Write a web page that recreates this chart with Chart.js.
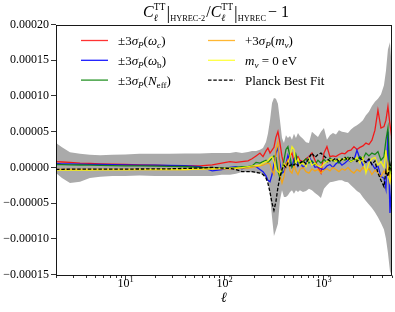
<!DOCTYPE html>
<html>
<head>
<meta charset="utf-8">
<script src="https://cdn.jsdelivr.net/npm/chart.js@4.4.1/dist/chart.umd.min.js"></script>
<style>
  html, body { margin: 0; padding: 0; background: #fff; }
  #wrap { width: 395px; height: 312px; }
</style>
</head>
<body>
<div id="wrap"><canvas id="ratio" width="395" height="312"></canvas></div>
<script>
// values in units of 1e-5
const UNIT = 1e-5;

const ell = [
  2, 2.3, 2.77, 3.5, 4.4, 5.6, 7.4, 10, 14, 20,
  28, 40, 57, 76, 95, 115, 132, 152, 175, 192,
  211, 231, 248, 266, 278, 292, 306, 320, 335, 351,
  368, 386, 404, 423, 443, 465, 487, 510, 534, 560,
  586, 629, 675, 723, 775, 832, 892, 956, 1025, 1099,
  1179, 1264, 1356, 1454, 1559, 1672, 1793, 1922, 2061, 2210,
  2370, 2541, 2725, 2922, 3134, 3361, 3605, 3866, 4146, 4342,
  4549, 4768, 5000
];

const bandHi = [
  3.4, 2.8, 2.1, 1.9, 1.75, 1.7, 1.75, 1.8, 1.9, 1.9,
  1.9, 1.95, 1.95, 2.0, 2.0, 2.0, 2.15, 2.0, 2.15, 2.3,
  2.3, 2.45, 2.7, 3.55, 4.7, 6.6, 9.0, 9.7, 9.6, 8.9,
  6.6, 4.1, 3.4, 4.5, 4.1, 4.4, 3.85, 4.7, 4.1, 4.8,
  4.4, 4.0, 3.5, 3.4, 5.0, 4.6, 4.25, 5.0, 5.5, 3.85,
  4.5, 4.8, 4.6, 5.2, 5.0, 4.9, 4.8, 5.3, 5.65, 5.9,
  6.2, 6.6, 7.3, 7.8, 8.6, 9.2, 9.6, 10.2, 11.5, 13.5,
  16.5, 17.5, 13.5
];

const bandLo = [
  -0.8, -1.5, -2.2, -2.0, -1.5, -1.3, -1.2, -1.2, -1.15, -1.2,
  -1.2, -1.2, -1.2, -1.2, -1.05, -1.05, -0.9, -0.65, -0.65, -0.7,
  -0.8, -0.8, -1.05, -1.5, -1.9, -3.9, -7.0, -9.6, -8.8, -7.9,
  -4.6, -3.2, -4.15, -4.15, -3.9, -3.45, -3.2, -3.7, -3.2, -3.45,
  -3.2, -3.45, -3.3, -3.0, -3.2, -3.6, -3.9, -4.3, -3.0, -2.5,
  -2.1, -2.0, -1.9, -1.8, -1.8, -2.0, -2.1, -2.5, -2.9, -3.3,
  -3.6, -4.2, -4.7, -5.2, -5.7, -6.3, -7.0, -7.8, -8.7, -10.0,
  -12.0, -14.5, -15.2
];

const omegaC = [
  0.8, 0.75, 0.7, 0.6, 0.55, 0.5, 0.45, 0.4, 0.35, 0.3,
  0.25, 0.2, 0.2, 0.35, 0.6, 0.8, 0.7, 0.8, 0.9, 1.2,
  1.6, 2.0, 1.5, 2.3, 2.7, 2.0, 2.4, 2.8, 4.2, 5.0,
  3.4, 1.5, 0.3, 0.1, 1.0, 1.6, 2.0, 0.8, 1.2, 1.5,
  1.0, 0.8, 1.2, 1.5, 2.0, 1.0, 0.0, -0.8, 2.0, 2.9,
  1.5, 1.6, 1.5, 1.8, 2.0, 1.9, 2.3, 2.4, 2.9, 2.5,
  2.8, 3.0, 3.4, 3.2, 3.8, 5.2, 8.0, 5.5, 5.7, 6.6,
  8.5, 6.0, 4.0
];

const omegaB = [
  0.55, 0.5, 0.48, 0.45, 0.42, 0.4, 0.38, 0.35, 0.32, 0.3,
  0.28, 0.25, 0.1, -0.5, -0.3, 0.0, 0.1, -0.2, 0.1, 0.2,
  0.1, -0.3, -0.6, -1.2, -1.8, -2.0, -1.0, 0.5, 2.0, 2.7,
  0.6, -0.8, -0.6, 0.5, 1.7, 0.8, 0.1, 1.2, 1.5, 0.2,
  0.8, 0.0, 0.5, 1.5, 0.8, 0.0, 0.1, -0.2, -0.3, 0.2,
  0.4, 0.0, 0.5, 0.8, 0.3, 0.6, 1.0, 0.8, 1.0, 2.4,
  1.2, 0.3, 0.8, 1.0, 0.5, -0.2, 0.2, -1.3, -1.5, -3.0,
  5.0, -6.4, -1.5
];

const nEff = [
  0.4, 0.38, 0.36, 0.33, 0.3, 0.28, 0.25, 0.22, 0.2, 0.18,
  0.15, 0.12, 0.0, -0.1, -0.1, -0.1, 0.0, 0.1, 0.1, 0.2,
  0.7, 0.6, 0.8, 1.0, 0.7, 1.0, 1.3, 1.6, 1.4, -0.5,
  -1.5, -0.5, 1.0, 2.5, 2.9, 1.5, 0.0, 0.5, 1.8, 0.8,
  0.5, 0.8, 1.2, 0.6, 0.9, 0.4, 1.0, 0.6, 1.1, 0.7,
  1.3, 0.9, 1.0, 0.6, 1.2, 1.0, 1.4, 0.8, 1.2, 1.0,
  1.5, 1.2, 2.0, 1.6, 2.0, 1.8, 2.2, 1.0, 1.5, 3.8,
  5.5, -1.0, 1.0
];

const mNuPlus = [
  -0.3, -0.3, -0.3, -0.3, -0.3, -0.3, -0.3, -0.3, -0.3, -0.3,
  -0.3, -0.3, -0.25, -0.2, -0.2, -0.2, -0.15, -0.1, -0.1, 0.0,
  0.1, 0.2, 0.3, 0.5, 0.6, 0.5, -0.5, -1.0, 2.5, 3.5,
  -1.0, -2.2, -1.3, 0.5, 1.0, -0.5, -0.8, 0.3, -0.5, -1.0,
  -0.3, 0.0, -0.6, -0.8, -0.2, -0.5, -0.3, -0.8, -0.4, -0.2,
  -0.5, 0.0, -0.3, -0.6, -0.2, -0.4, 0.0, -0.5, -0.8, -0.3,
  -0.6, 0.0, -0.5, -0.2, -1.0, -0.4, -0.8, -1.3, -0.5, -1.0,
  0.5, -2.0, -1.0
];

const mNuZero = [
  -0.4, -0.4, -0.4, -0.38, -0.37, -0.36, -0.35, -0.34, -0.33, -0.32,
  -0.3, -0.3, -0.25, -0.2, -0.15, -0.1, -0.1, -0.05, 0.1, 0.2,
  0.25, 0.3, 0.6, 0.8, 0.9, 1.3, 1.5, 0.8, -0.2, -0.6,
  -0.8, -0.3, 0.5, 0.2, 0.5, 1.5, 2.9, 2.5, 0.6, 1.2,
  0.4, 0.6, 0.1, 1.4, 0.3, 0.6, 0.2, 0.0, 0.5, 0.8,
  1.0, 1.1, 0.8, 1.2, 1.0, 1.3, 1.2, 0.8, 1.0, 1.4,
  0.6, 1.4, -0.8, 0.6, 1.2, 1.4, 0.3, 0.8, 0.0, 2.4,
  -1.0, -2.0, 0.5
];

const planck = [
  -0.27, -0.27, -0.26, -0.26, -0.25, -0.25, -0.24, -0.24, -0.23, -0.22,
  -0.2, -0.15, -0.1, 0.0, -0.1, -0.15, -0.3, -0.6, -0.6, -0.6,
  -0.7, -0.8, -1.0, -1.5, -2.2, -3.5, -5.0, -6.0, -4.8, -2.8,
  -1.3, -0.3, 0.3, 0.0, 0.6, 0.2, 0.5, 0.3, 0.6, 0.2,
  0.6, 0.9, 0.5, 1.3, 2.0, 1.4, 1.8, 2.0, 1.6, 1.2,
  0.9, 1.0, 1.3, 0.8, 1.1, 1.4, 1.0, 1.5, 1.2, 0.8,
  1.3, 1.0, 0.7, 1.2, 0.4, 0.9, -0.8, -1.8, -2.7, -0.5,
  -1.3, 0.5, -1.0
];

const yTicks = [-0.00015, -0.0001, -0.00005, 0, 0.00005, 0.0001, 0.00015, 0.0002];
const xMajor = [10, 100, 1000];
const xMajorExp = ['1', '2', '3'];
const xMinor = [2, 3, 4, 5, 6, 7, 8, 9, 20, 30, 40, 50, 60, 70, 80, 90,
  200, 300, 400, 500, 600, 700, 800, 900, 2000, 3000, 4000, 5000];

const SERIF = '"Liberation Serif", "Times New Roman", serif';

function pts(vals) {
  return ell.map((l, i) => ({ x: l, y: vals[i] * UNIT }));
}

function lineSet(label, vals, color, order, dash) {
  return {
    label, data: pts(vals), borderColor: color, borderWidth: 1.3,
    borderDash: dash || [], pointRadius: 0, fill: false, tension: 0, order
  };
}

// rich text: parts are {t, it, sc, dy} or {stack: [...]}
function rich(ctx, parts, x, y, base, draw) {
  let cx = x;
  parts.forEach(p => {
    const items = p.stack || [p];
    let w = 0;
    items.forEach(q => {
      ctx.font = (q.it ? 'italic ' : '') + (base * (q.sc || 1)) + 'px ' + SERIF;
      const m = ctx.measureText(q.t).width;
      if (draw) ctx.fillText(q.t, cx, y + (q.dy || 0));
      w = Math.max(w, m);
    });
    cx += w + (p.sp || 0);
  });
  return cx - x;
}

function sig(arg, sub, subIt) {
  return [
    { t: arg[0] }, { t: 'σ', it: true }, { t: 'P', it: true, sc: 0.7, dy: 3 },
    { t: '(' }, { t: arg[1], it: true }, { t: sub, it: subIt, sc: 0.7, dy: 3 }, { t: ')' }
  ];
}

const legendItems = [
  { col: 0, row: 0, color: 'rgba(255,0,0,0.8)', parts: sig(['±3', 'ω'], 'c', true) },
  { col: 0, row: 1, color: 'rgba(0,0,255,0.9)', parts: sig(['±3', 'ω'], 'b', false) },
  { col: 0, row: 2, color: 'rgba(0,128,0,0.85)', parts: sig(['±3', 'N'], 'eff', false) },
  { col: 1, row: 0, color: 'rgba(255,165,0,0.8)', parts: sig(['+3', 'm'], 'ν', true) },
  { col: 1, row: 1, color: 'rgba(255,255,0,0.75)', parts: [
      { t: 'm', it: true }, { t: 'ν', it: true, sc: 0.7, dy: 3 }, { t: ' = 0 eV' }] },
  { col: 1, row: 2, color: '#000', dash: [3.5, 1.8], parts: [{ t: 'Planck Best Fit' }] }
];

const ttStack = { stack: [
  { t: 'TT', sc: 0.6, dy: -7 },
  { t: 'ℓ', it: true, sc: 0.62, dy: 3.5 }
], sp: 1 };
const titleParts = [
  { t: 'C', it: true }, ttStack,
  { t: '|', sc: 1.15, dy: 1.5 }, { t: 'HYREC-2', sc: 0.52, dy: 4, sp: 1 },
  { t: '/' },
  { t: 'C', it: true }, ttStack,
  { t: '|', sc: 1.15, dy: 1.5 }, { t: 'HYREC', sc: 0.52, dy: 4, sp: 2 },
  { t: '− 1' }
];

const decor = {
  id: 'decor',
  afterDraw(chart) {
    const { ctx, chartArea: a, scales: { x } } = chart;
    ctx.save();
    ctx.strokeStyle = '#000';
    ctx.fillStyle = '#000';
    ctx.lineWidth = 0.9;
    const L = Math.round(a.left) + 0.5, R = Math.round(a.right) - 0.5;
    const T = Math.round(a.top) + 0.5, B = Math.round(a.bottom) + 0.5;
    ctx.strokeRect(L, T, R - L, B - T);

    // x ticks
    ctx.lineWidth = 0.8;
    xMinor.forEach(v => {
      const px = Math.round(x.getPixelForValue(v)) + 0.5;
      ctx.beginPath(); ctx.moveTo(px, B); ctx.lineTo(px, B + 2.5); ctx.stroke();
    });
    ctx.textBaseline = 'alphabetic';
    xMajor.forEach((v, i) => {
      const px = Math.round(x.getPixelForValue(v)) + 0.5;
      ctx.beginPath(); ctx.moveTo(px, B); ctx.lineTo(px, B + 4.5); ctx.stroke();
      const parts = [{ t: '10' }, { t: xMajorExp[i], sc: 0.7, dy: -5 }];
      const w = rich(ctx, parts, 0, 0, 12, false);
      rich(ctx, parts, px - w / 2, 287, 12, true);
    });

    // x label
    ctx.font = 'italic 14px ' + SERIF;
    ctx.textAlign = 'center';
    ctx.fillText('ℓ', (a.left + a.right) / 2, 302);
    ctx.textAlign = 'left';

    // title
    const tw = rich(ctx, titleParts, 0, 0, 16, false);
    rich(ctx, titleParts, 216 - tw / 2, 17, 16, true);

    // legend
    legendItems.forEach(it => {
      const y = 40.5 + it.row * 19.8;
      const x0 = it.col ? 208 : 81;
      ctx.strokeStyle = it.color;
      ctx.lineWidth = 1.3;
      ctx.setLineDash(it.dash || []);
      ctx.beginPath(); ctx.moveTo(x0, y); ctx.lineTo(x0 + 27, y); ctx.stroke();
      ctx.setLineDash([]);
      rich(ctx, it.parts, x0 + 37, y + 4.5, 13, true);
    });
    ctx.restore();
  }
};

new Chart(document.getElementById('ratio'), {
  type: 'line',
  data: {
    datasets: [
      { label: 'band hi', data: pts(bandHi), borderWidth: 0, pointRadius: 0, fill: false, order: 20 },
      { label: 'band lo', data: pts(bandLo), borderWidth: 0, pointRadius: 0,
        fill: '-1', backgroundColor: 'rgb(170,170,170)', order: 19 },
      lineSet('omega_c', omegaC, 'rgba(255,0,0,0.85)', 6),
      lineSet('omega_b', omegaB, 'rgba(0,0,255,0.85)', 5),
      lineSet('N_eff', nEff, 'rgba(0,128,0,0.85)', 4),
      lineSet('m_nu +3s', mNuPlus, 'rgba(255,165,0,0.85)', 3),
      lineSet('m_nu 0', mNuZero, 'rgba(255,255,0,0.85)', 2),
      lineSet('Planck', planck, '#000', 1, [3.5, 1.8])
    ]
  },
  options: {
    responsive: false,
    animation: false,
    devicePixelRatio: 1,
    layout: { padding: { top: 24.5, right: 3, left: 0, bottom: 0 } },
    plugins: { legend: { display: false }, title: { display: false }, tooltip: { enabled: false } },
    scales: {
      x: {
        type: 'logarithmic', min: 2, max: 5000,
        grid: { display: false }, border: { display: false },
        ticks: { display: false },
        afterFit(s) { s.height = 37.5; }
      },
      y: {
        min: -0.00015, max: 0.0002,
        afterBuildTicks(s) { s.ticks = yTicks.map(v => ({ value: v })); },
        afterFit(s) { s.width = 56; },
        grid: { drawOnChartArea: false, drawTicks: true, tickLength: 5, color: '#000', lineWidth: 0.8 },
        border: { display: false },
        ticks: {
          padding: 2, color: '#000', font: { family: SERIF, size: 12 },
          callback(v) {
            if (Math.abs(v) < 1e-12) return '0.00000';
            return v.toFixed(5).replace('-', '−');
          }
        }
      }
    }
  },
  plugins: [decor]
});
</script>
</body>
</html>
